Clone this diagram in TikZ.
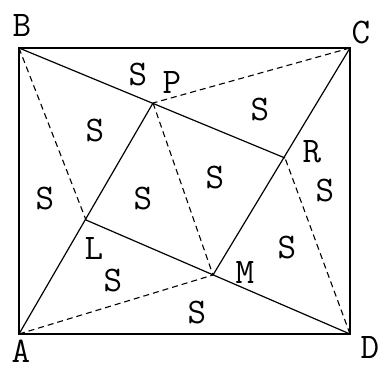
\documentclass[tikz,border=0pt]{standalone}
\usepackage{tikz}
\usetikzlibrary{calc}

\begin{document}
\begin{tikzpicture}[
    x=1pt, y=-1pt,
    frame/.style={line width=1.8pt},
    solidline/.style={line width=1.2pt},
    dashline/.style={line width=1.1pt, dash pattern=on 6pt off 4pt},
    lbl/.style={font=\fontsize{36}{36}\selectfont\ttfamily, inner sep=0pt}
]
\useasboundingbox (0,0) rectangle (382,372);
% corners of the rectangle and inner points
\coordinate (A) at (19,334);
\coordinate (B) at (19,48);
\coordinate (C) at (350,48);
\coordinate (D) at (350,334);
\coordinate (P) at (153,103);
\coordinate (R) at (285,158);
\coordinate (M) at (213,275);
\coordinate (L) at (86,220);

\draw[frame] (A) -- (B) -- (C) -- (D) -- cycle;
\draw[solidline] (B) -- (R);
\draw[solidline] (C) -- (M);
\draw[solidline] (D) -- (L);
\draw[solidline] (A) -- (P);

\draw[dashline] (B) -- (L);
\draw[dashline] (C) -- (P);
\draw[dashline] (D) -- (R);
\draw[dashline] (A) -- (M);
\draw[dashline] (P) -- (M);

% point labels
\node[lbl] (lA) at (21,351) {A};
\node[lbl] (lB) at (22,26) {B};
\node[lbl] (lC) at (361,33) {C};
\node[lbl] (lD) at (370,347) {D};
\node[lbl] (lP) at (172,83) {P};
\node[lbl] (lR) at (312,152) {R};
\node[lbl] (lL) at (94,248) {L};
\node[lbl] (lM) at (245,272) {M};

% areas
\foreach \pos [count=\i] in {(138,74),(95,130),(260,110),(215,177),(325,190),
    (45,198),(143,198),(287,247),(113,280),(197,312)}
    \node[lbl] (s\i) at \pos {S};
\end{tikzpicture}
\end{document}
